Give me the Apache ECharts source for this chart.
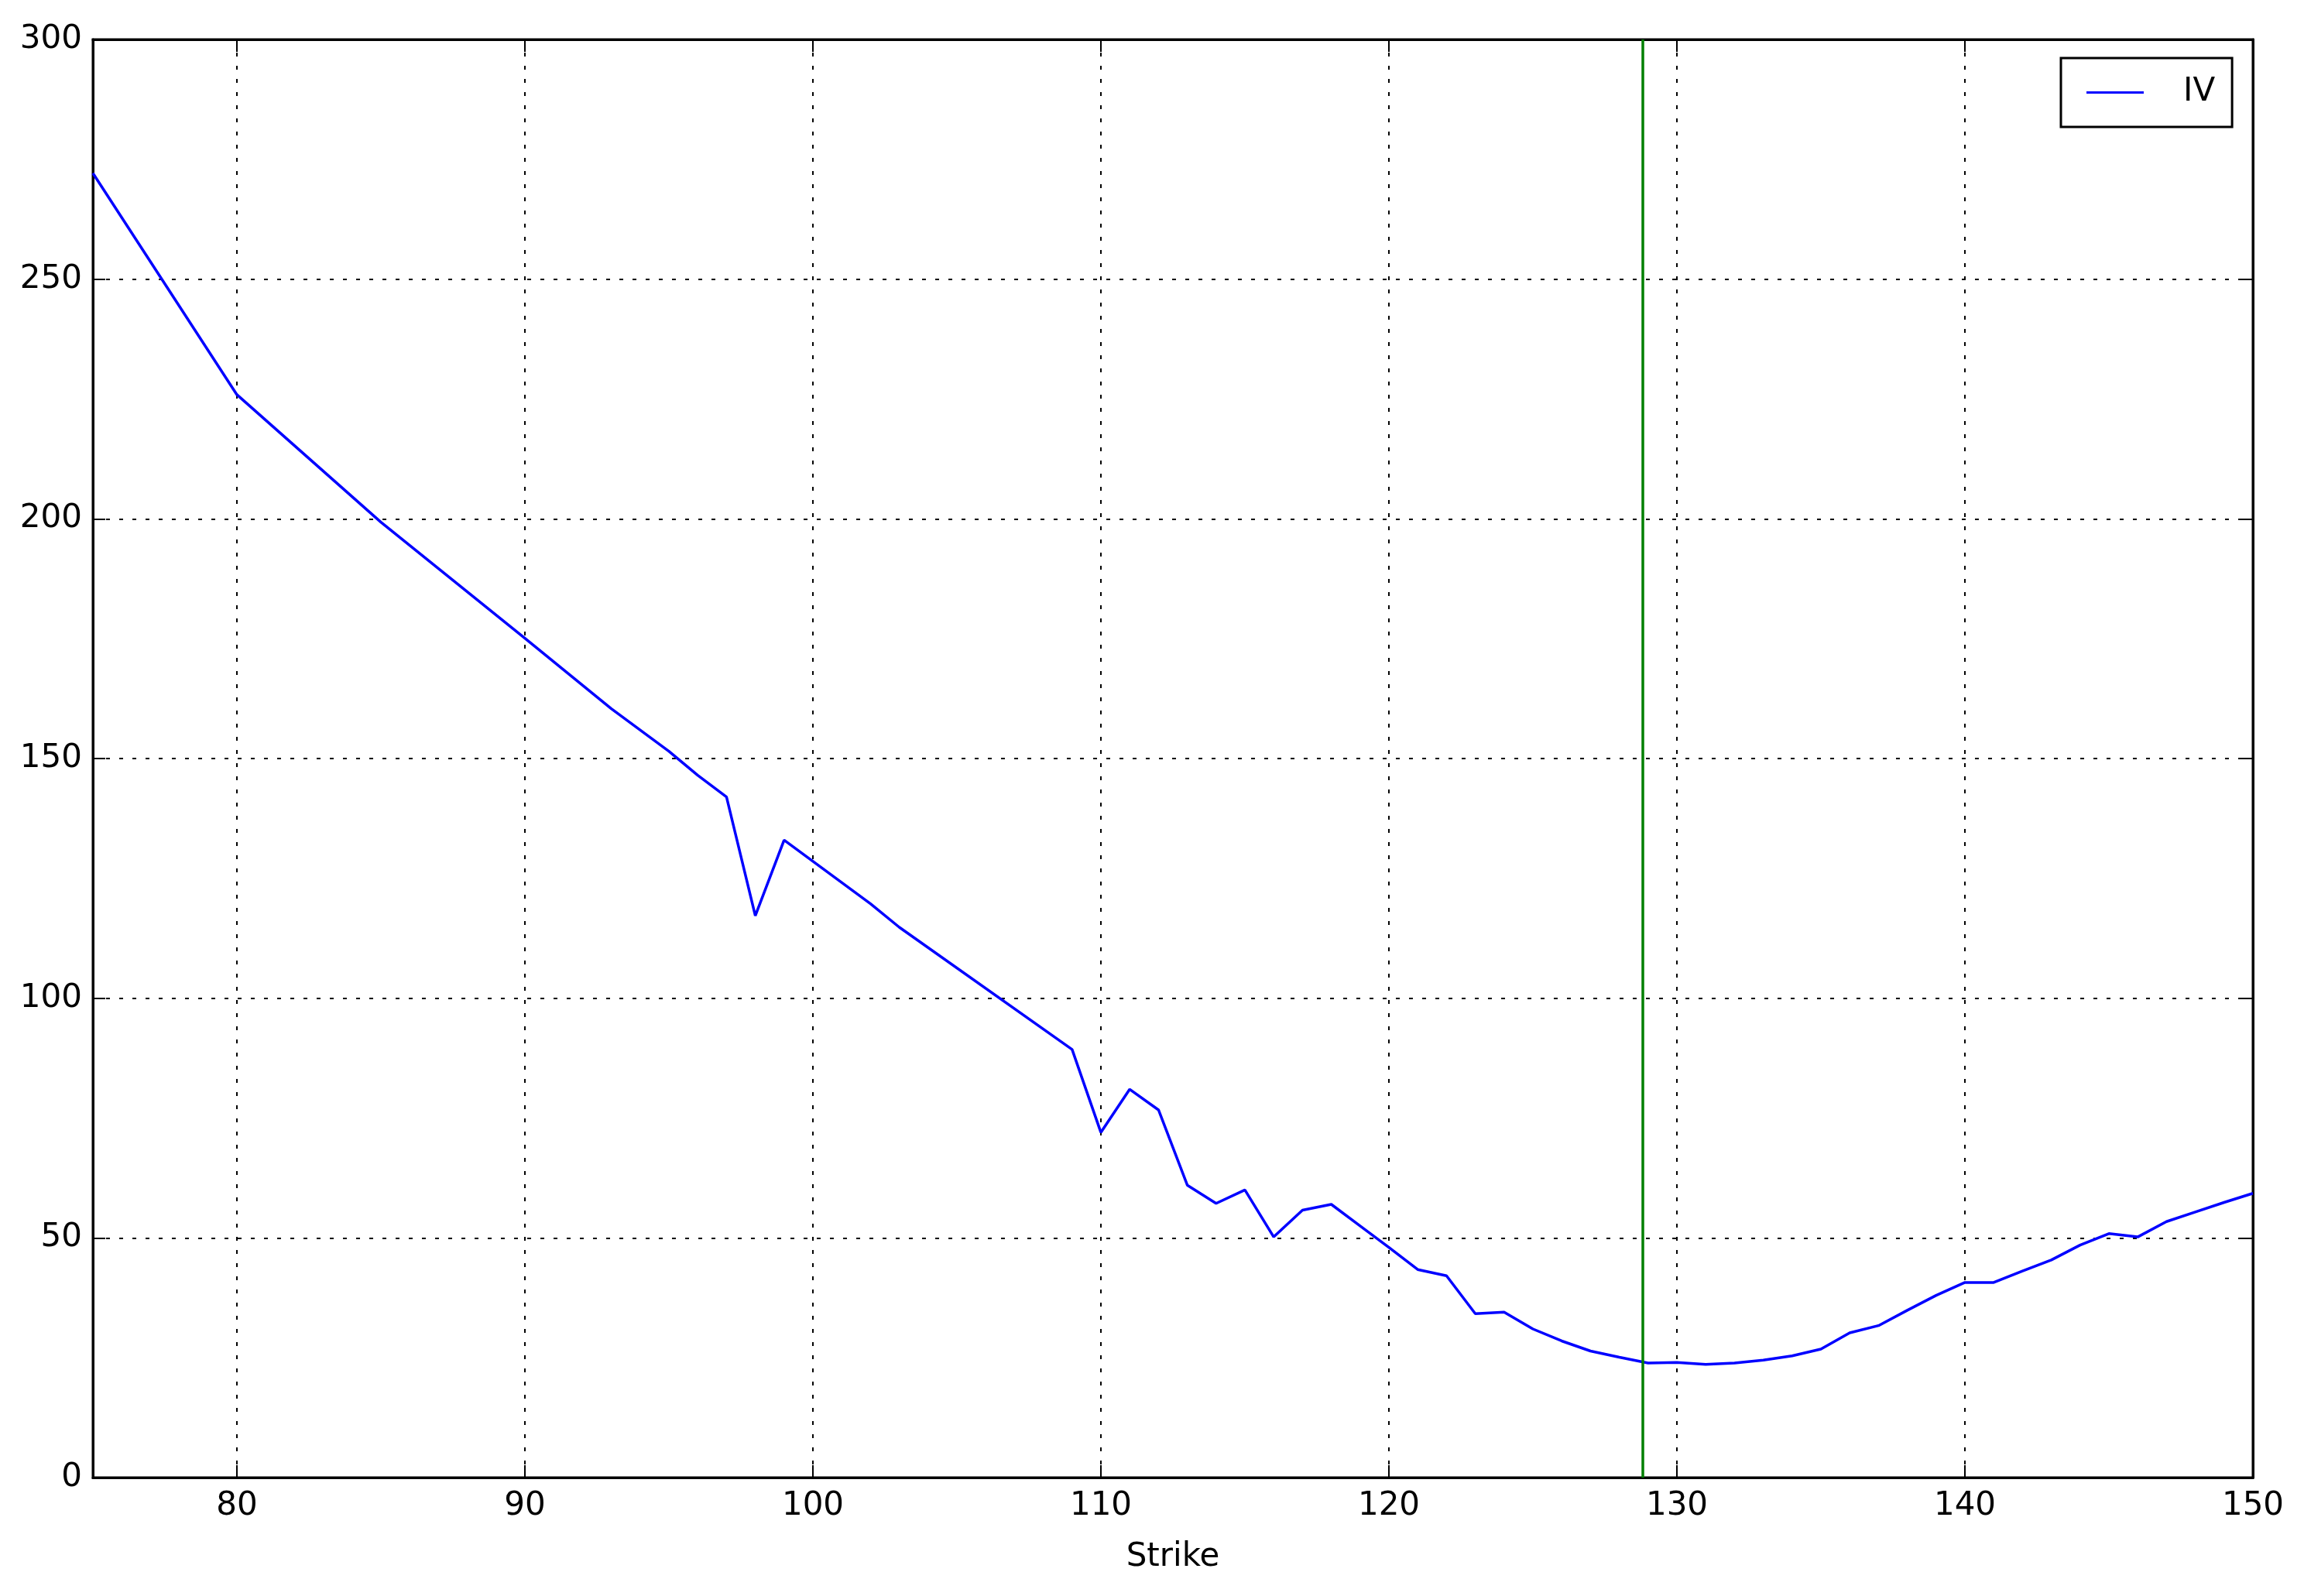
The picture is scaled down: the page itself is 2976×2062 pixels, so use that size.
<!DOCTYPE html>
<html>
<head>
<meta charset="utf-8">
<script src="https://cdn.jsdelivr.net/npm/echarts@6/dist/echarts.min.js"></script>
<style>
  html, body { margin: 0; padding: 0; background: #ffffff; }
  #chart { width: 2976px; height: 2062px; }
</style>
</head>
<body>
<div id="chart"></div>
<script>
// ---- data ----
const strikes = [75, 80, 85, 90, 93, 95, 96, 97, 98, 99, 102, 103, 109, 110, 111, 112, 113, 114, 115, 116, 117, 118, 119, 120, 121, 122, 123, 124, 125, 126, 127, 128, 129, 130, 131, 132, 133, 134, 135, 136, 137, 138, 139, 140, 141, 142, 143, 144, 145, 146, 147, 148, 149, 150];
const ivValues = [272.1, 225.9, 199.3, 175.1, 160.4, 151.5, 146.5, 142.0, 117.2, 133.0, 119.7, 114.8, 89.3, 72.0, 81.0, 76.7, 61.0, 57.2, 60.0, 50.2, 55.8, 57.0, 52.5, 48.0, 43.4, 42.1, 34.2, 34.5, 31.0, 28.5, 26.4, 25.1, 23.9, 24.0, 23.6, 23.9, 24.5, 25.4, 26.8, 30.2, 31.7, 34.9, 38.0, 40.7, 40.7, 43.1, 45.4, 48.5, 50.9, 50.2, 53.4, 55.4, 57.4, 59.3];
const spotStrike = 128.8;
const seriesName = 'IV';
const xAxisTitle = 'Strike';
const xRange = [75, 150];
const yRange = [0, 300];
const yStep = 50;

const FONT = 'DejaVu Sans';
const pairs = strikes.map((s, i) => [s, ivValues[i]]);

const chart = echarts.init(document.getElementById('chart'), null, { renderer: 'canvas' });

const tickStyle = { show: true, inside: true, length: 16, lineStyle: { color: '#000', width: 2 } };
const gridLine = { show: true, lineStyle: { color: '#000', width: 2, type: [5, 12] } };

chart.setOption({
  animation: false,
  backgroundColor: '#ffffff',
  grid: {
    left: 120, top: 51, width: 2790, height: 1858,
    show: true, borderColor: '#000', borderWidth: 3, backgroundColor: 'transparent'
  },
  legend: {
    data: [seriesName],
    left: 2662, top: 75,
    orient: 'vertical',
    padding: [23, 22, 23, 33],
    borderColor: '#000', borderWidth: 3,
    backgroundColor: '#ffffff',
    icon: 'rect',
    itemWidth: 74, itemHeight: 3,
    textStyle: { fontFamily: FONT, fontSize: 42, lineHeight: 43, color: '#000', padding: [0, 0, 0, 46] }
  },
  xAxis: [{
    type: 'value', min: xRange[0], max: xRange[1],
    splitNumber: 7, minInterval: 10, maxInterval: 10,
    name: xAxisTitle, nameLocation: 'middle', nameGap: 82,
    nameTextStyle: { fontFamily: FONT, fontSize: 42, color: '#000' },
    axisLine: { show: true, onZero: false, lineStyle: { color: '#000', width: 3 } },
    axisTick: tickStyle,
    axisLabel: {
      fontFamily: FONT, fontSize: 42, lineHeight: 42, color: '#000', margin: 16,
      showMinLabel: false,
      formatter: v => (v === xRange[0] ? '' : String(v))
    },
    splitLine: gridLine
  }, {
    type: 'value', min: xRange[0], max: xRange[1], position: 'top',
    splitNumber: 7, minInterval: 10, maxInterval: 10,
    axisLine: { show: true, onZero: false, lineStyle: { color: '#000', width: 3 } },
    axisTick: tickStyle,
    axisLabel: { show: false },
    splitLine: { show: false }
  }],
  yAxis: [{
    type: 'value', min: yRange[0], max: yRange[1], interval: yStep,
    axisLine: { show: true, onZero: false, lineStyle: { color: '#000', width: 3 } },
    axisTick: tickStyle,
    axisLabel: { fontFamily: FONT, fontSize: 42, color: '#000', margin: 14 },
    splitLine: gridLine
  }, {
    type: 'value', min: yRange[0], max: yRange[1], interval: yStep, position: 'right',
    axisLine: { show: true, onZero: false, lineStyle: { color: '#000', width: 3 } },
    axisTick: tickStyle,
    axisLabel: { show: false },
    splitLine: { show: false }
  }],
  series: [{
    name: seriesName,
    type: 'line',
    xAxisIndex: 0, yAxisIndex: 0,
    data: pairs,
    symbol: 'none', showSymbol: false,
    color: '#0000ff',
    itemStyle: { color: '#0000ff' },
    lineStyle: { color: '#0000ff', width: 3.5 },
    z: 3,
    markLine: {
      silent: true,
      symbol: 'none',
      label: { show: false },
      lineStyle: { color: '#008000', width: 3.5, type: 'solid' },
      data: [{ xAxis: spotStrike }]
    }
  }]
});
</script>
</body>
</html>
